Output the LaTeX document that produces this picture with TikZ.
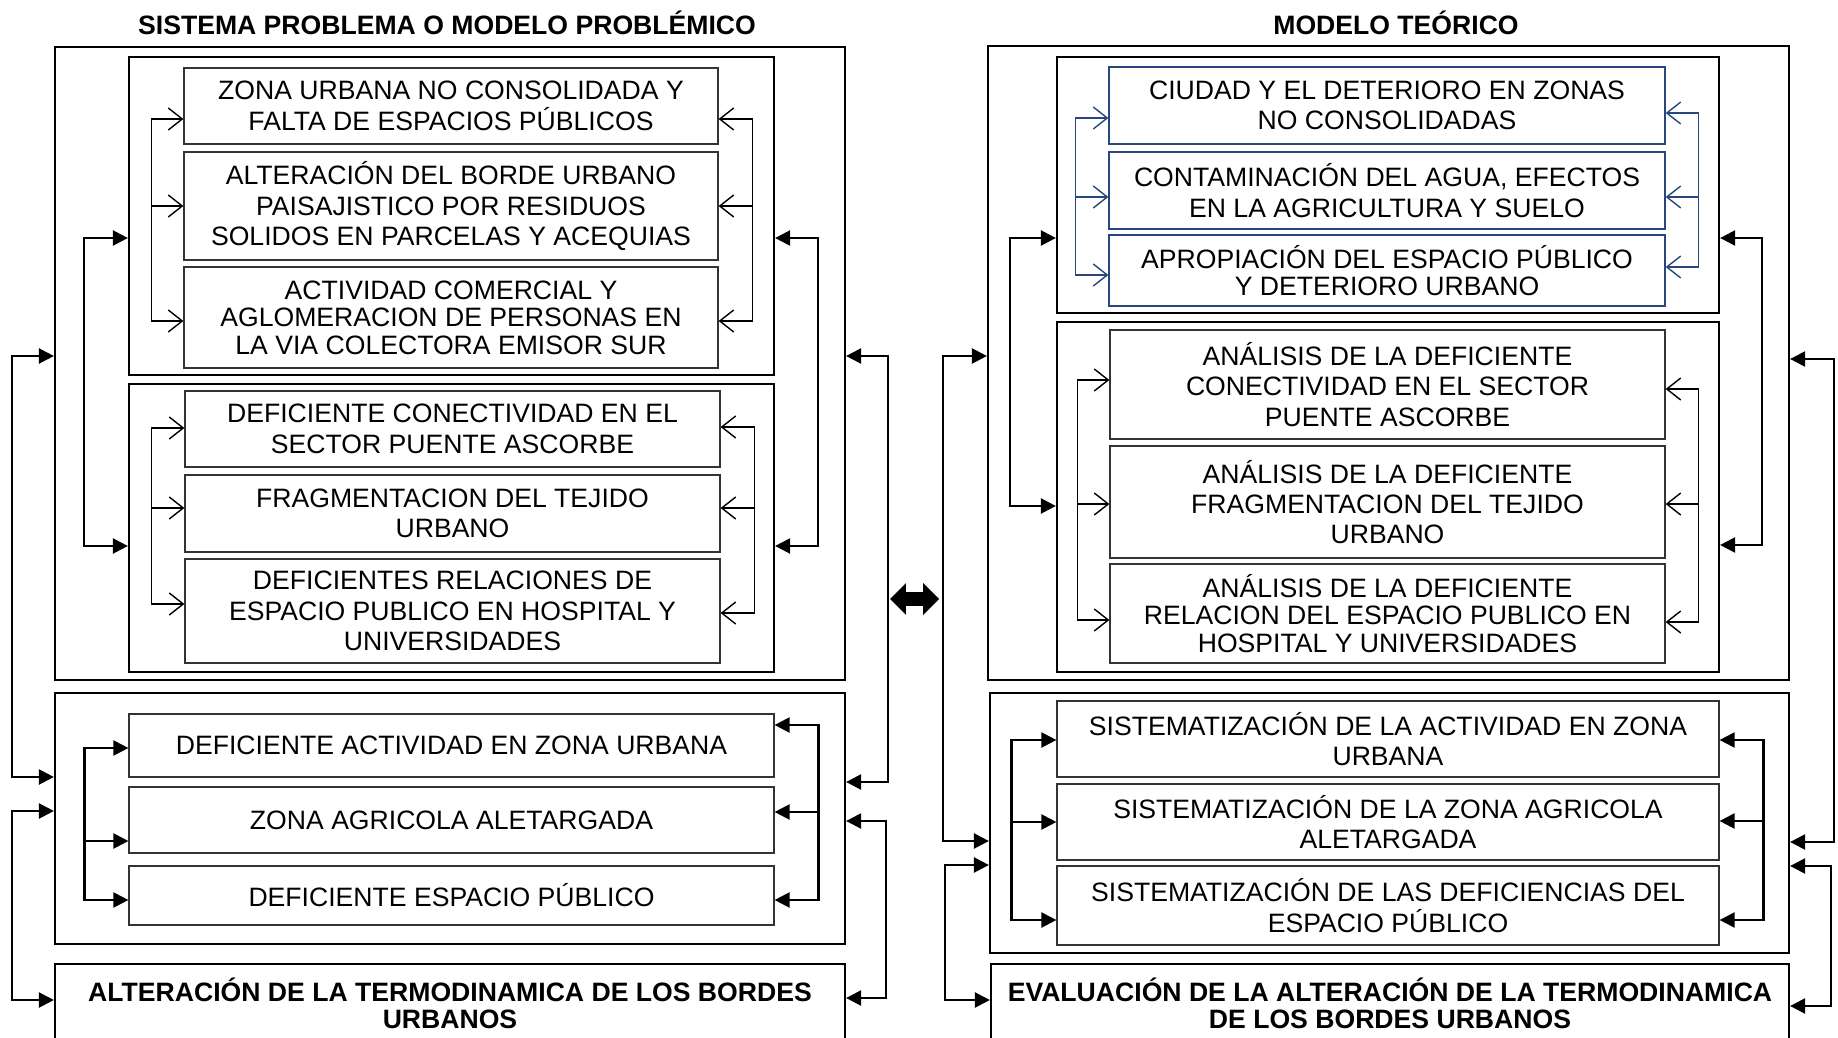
\documentclass[tikz,border=0pt]{standalone}
\usepackage{fontspec}
\setmainfont{Liberation Sans}
\usetikzlibrary{arrows.meta,shapes.arrows}
\definecolor{azul}{RGB}{41,70,125}

\begin{document}
\begin{tikzpicture}[x=0.5pt,y=-0.5pt,
  font=\fontsize{13.3}{15.2}\selectfont,
  marco/.style={draw,line width=1.1pt,inner sep=0pt},
  caja/.style={draw=black!80,line width=0.6pt,inner sep=0pt,align=center},
  cajaazul/.style={caja,draw=azul},
  apretada/.style={font=\fontsize{13.3}{13.8}\selectfont},
  final/.style={marco,align=center,font=\bfseries\fontsize{13.3}{13.5}\selectfont},
  titulo/.style={font=\bfseries\fontsize{13.3}{14.5}\selectfont},
  fina/.style={line width=0.7pt,>={Straight Barb[length=7pt,width=11pt]}},
  gruesa/.style={line width=1.15pt,>={Triangle[length=7.5pt,width=7.5pt]}}]

\useasboundingbox (0,0) rectangle (1838,1038);

% titulos
\node[titulo] (tizq) at (447,23) {SISTEMA PROBLEMA O MODELO PROBLÉMICO};
\node[titulo] (tder) at (1396,23) {MODELO TEÓRICO};

% ---------------- modelo problemico ----------------
\node[marco,minimum width=395pt,minimum height=316.5pt] (Lout) at (450,363.5) {};
\node[marco,minimum width=322.5pt,minimum height=159pt] (Lin1) at (451.5,216) {};
\node[marco,minimum width=322.5pt,minimum height=144pt] (Lin2) at (451.5,528) {};
\node[marco,minimum width=395pt,minimum height=125.5pt] (Lmid) at (450,818.5) {};
\node[final,minimum width=395pt,minimum height=39.5pt] (Lbot) at (450,1003.5)
  {ALTERACIÓN DE LA TERMODINAMICA DE LOS BORDES\\URBANOS};

\node[caja,minimum width=267pt,minimum height=38pt] (La) at (451,106)
  {ZONA URBANA NO CONSOLIDADA Y\\FALTA DE ESPACIOS PÚBLICOS};
\node[caja,minimum width=267pt,minimum height=54pt] (Lb) at (451,206)
  {ALTERACIÓN DEL BORDE URBANO\\PAISAJISTICO POR RESIDUOS\\SOLIDOS EN PARCELAS Y ACEQUIAS};
\node[caja,apretada,minimum width=267pt,minimum height=50.5pt] (Lc) at (451,317.5)
  {ACTIVIDAD COMERCIAL Y\\AGLOMERACION DE PERSONAS EN\\LA VIA COLECTORA EMISOR SUR};

\node[caja,minimum width=267.5pt,minimum height=38pt] (Ld) at (452.5,429)
  {DEFICIENTE CONECTIVIDAD EN EL\\SECTOR PUENTE ASCORBE};
\node[caja,minimum width=267.5pt,minimum height=38.5pt] (Le) at (452.5,513.5)
  {FRAGMENTACION DEL TEJIDO\\URBANO};
\node[caja,minimum width=267.5pt,minimum height=52pt] (Lf) at (452.5,611)
  {DEFICIENTES RELACIONES DE\\ESPACIO PUBLICO EN HOSPITAL Y\\UNIVERSIDADES};

\node[caja,minimum width=322.5pt,minimum height=31.5pt] (Lg) at (451.5,745.5)
  {DEFICIENTE ACTIVIDAD EN ZONA URBANA};
\node[caja,minimum width=322.5pt,minimum height=33pt] (Lh) at (451.5,820)
  {ZONA AGRICOLA ALETARGADA};
\node[caja,minimum width=322.5pt,minimum height=29.5pt] (Li) at (451.5,895.5)
  {DEFICIENTE ESPACIO PÚBLICO};

\begin{scope}[fina]
\draw[<->] (La.west |- 0,119) -- ++(-32,0) |- (Lc.west |- 0,321);
\draw[<-] (Lb.west |- 0,206) -- ++(-32,0);
\draw[<->] (La.east |- 0,119) -- ++(34,0) |- (Lc.east |- 0,321);
\draw[<-] (Lb.east |- 0,206) -- ++(34,0);
\draw[<->] (Ld.west |- 0,428) -- ++(-33,0) |- (Lf.west |- 0,604);
\draw[<-] (Le.west |- 0,508) -- ++(-33,0);
\draw[<->] (Ld.east |- 0,427) -- ++(34,0) |- (Lf.east |- 0,613);
\draw[<-] (Le.east |- 0,508) -- ++(34,0);
\end{scope}

\begin{scope}[gruesa]
\draw[<->] (Lin1.west |- 0,238) -- ++(-44,0) |- (Lin2.west |- 0,546);
\draw[<->] (Lin1.east |- 0,238) -- ++(43,0) |- (Lin2.east |- 0,546);
\draw[<->] (Lg.west |- 0,748) -- ++(-44,0) |- (Li.west |- 0,900);
\draw[<-] (Lh.west |- 0,841) -- ++(-44,0);
\draw[<->] (Lg.east |- 0,725) -- ++(44,0) |- (Li.east |- 0,900);
\draw[<-] (Lh.east |- 0,812) -- ++(44,0);
\draw[<->] (Lout.west |- 0,356) -- ++(-42,0) |- (Lmid.west |- 0,777);
\draw[<->] (Lmid.west |- 0,811) -- ++(-42,0) |- (Lbot.west |- 0,1000);
\draw[<->] (Lout.east |- 0,356) -- ++(42,0) |- (Lmid.east |- 0,782);
\draw[<->] (Lmid.east |- 0,821) -- ++(40,0) |- (Lbot.east |- 0,998);
\end{scope}

% enlace entre modelos
\node[double arrow,fill=black,inner sep=0pt,inner ysep=3.25pt,minimum height=24.5pt,
  double arrow head extend=4.5pt] (enlace) at (914.5,599) {};

% ---------------- modelo teorico ----------------
\node[marco,minimum width=400.5pt,minimum height=317pt] (Rout) at (1388.5,363) {};
\node[marco,minimum width=331pt,minimum height=128pt] (Rin1) at (1388,185) {};
\node[marco,minimum width=331pt,minimum height=175pt] (Rin2) at (1388,497) {};
\node[marco,minimum width=399.5pt,minimum height=130pt] (Rmid) at (1389.5,823) {};
\node[final,minimum width=399pt,minimum height=39.5pt] (Rbot) at (1390,1003.5)
  {EVALUACIÓN DE LA ALTERACIÓN DE LA TERMODINAMICA\\DE LOS BORDES URBANOS};

\node[cajaazul,minimum width=278pt,minimum height=38.5pt] (Ra) at (1387,105.5)
  {CIUDAD Y EL DETERIORO EN ZONAS\\NO CONSOLIDADAS};
\node[cajaazul,minimum width=278pt,minimum height=38.5pt] (Rb) at (1387,190.5)
  {CONTAMINACIÓN DEL AGUA, EFECTOS\\EN LA AGRICULTURA Y SUELO};
\node[cajaazul,apretada,minimum width=278pt,minimum height=35.5pt] (Rc) at (1387,270.5)
  {APROPIACIÓN DEL ESPACIO PÚBLICO\\Y DETERIORO URBANO};

\node[caja,minimum width=277.5pt,minimum height=54.5pt] (Rd) at (1387.5,384.5)
  {ANÁLISIS DE LA DEFICIENTE\\CONECTIVIDAD EN EL SECTOR\\PUENTE ASCORBE};
\node[caja,minimum width=277.5pt,minimum height=56pt] (Re) at (1387.5,502)
  {ANÁLISIS DE LA DEFICIENTE\\FRAGMENTACION DEL TEJIDO\\URBANO};
\node[caja,apretada,minimum width=277.5pt,minimum height=49.5pt] (Rf) at (1387.5,613.5)
  {ANÁLISIS DE LA DEFICIENTE\\RELACION DEL ESPACIO PUBLICO EN\\HOSPITAL Y UNIVERSIDADES};

\node[caja,minimum width=331pt,minimum height=38pt] (Rg) at (1388,739)
  {SISTEMATIZACIÓN DE LA ACTIVIDAD EN ZONA\\URBANA};
\node[caja,minimum width=331pt,minimum height=38pt] (Rh) at (1388,822)
  {SISTEMATIZACIÓN DE LA ZONA AGRICOLA\\ALETARGADA};
\node[caja,minimum width=331pt,minimum height=39.5pt] (Ri) at (1388,905.5)
  {SISTEMATIZACIÓN DE LAS DEFICIENCIAS DEL\\ESPACIO PÚBLICO};

\begin{scope}[fina,azul]
\draw[<->] (Ra.west |- 0,118) -- ++(-33,0) |- (Rc.west |- 0,275);
\draw[<-] (Rb.west |- 0,197) -- ++(-33,0);
\draw[<->] (Ra.east |- 0,113) -- ++(33,0) |- (Rc.east |- 0,267);
\draw[<-] (Rb.east |- 0,197) -- ++(33,0);
\end{scope}

\begin{scope}[fina]
\draw[<->] (Rd.west |- 0,380) -- ++(-32,0) |- (Rf.west |- 0,620);
\draw[<-] (Re.west |- 0,504) -- ++(-32,0);
\draw[<->] (Rd.east |- 0,389) -- ++(33,0) |- (Rf.east |- 0,622);
\draw[<-] (Re.east |- 0,504) -- ++(33,0);
\end{scope}

\begin{scope}[gruesa]
\draw[<->] (Rin1.west |- 0,238) -- ++(-46,0) |- (Rin2.west |- 0,506);
\draw[<->] (Rin1.east |- 0,238) -- ++(42,0) |- (Rin2.east |- 0,545);
\draw[<->] (Rg.west |- 0,740) -- ++(-45,0) |- (Ri.west |- 0,920);
\draw[<-] (Rh.west |- 0,822) -- ++(-45,0);
\draw[<->] (Rg.east |- 0,740) -- ++(44,0) |- (Ri.east |- 0,920);
\draw[<-] (Rh.east |- 0,821) -- ++(44,0);
\draw[<->] (Rout.west |- 0,356) -- ++(-44,0) |- (Rmid.west |- 0,841);
\draw[<->] (Rmid.west |- 0,865) -- ++(-44,0) |- (Rbot.west |- 0,1000);
\draw[<->] (Rout.east |- 0,359) -- ++(44,0) |- (Rmid.east |- 0,842);
\draw[<->] (Rmid.east |- 0,866) -- ++(41,0) |- (Rbot.east |- 0,1006);
\end{scope}
\end{tikzpicture}
\end{document}
